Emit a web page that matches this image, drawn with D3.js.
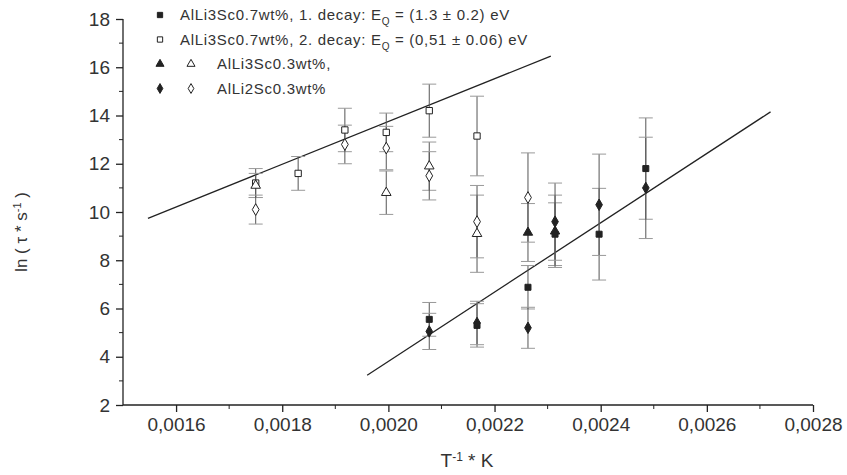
<!DOCTYPE html>
<html>
<head>
<meta charset="utf-8">
<script src="https://cdn.jsdelivr.net/npm/d3@7"></script>
<style>
  body { margin: 0; background: #fff; }
  svg { display: block; font-family: 'Liberation Sans', Arial, sans-serif; }
</style>
</head>
<body>
<svg width="847" height="475"></svg>
<script>
// 1. decay, AlLi3Sc0.7wt% (filled squares)
var decay1X = [0.002077, 0.002167, 0.002263, 0.002314, 0.002397, 0.002485]
var decay1Y = [5.55, 5.3, 6.88, 9.08, 9.08, 11.8]
var decay1Err = [0.7, 0.9, 0.9, 1.3, 1.9, 2.1]

// 2. decay, AlLi3Sc0.7wt% (open squares)
var decay2X = [0.00175, 0.00183, 0.001918, 0.001996, 0.002077, 0.002167]
var decay2Y = [11.2, 11.6, 13.4, 13.3, 14.2, 13.15]
var decay2Err = [0.6, 0.7, 0.9, 0.8, 1.1, 1.65]

// AlLi3Sc0.3wt% (filled / open triangles)
var triFilledX = [0.002263, 0.002314]
var triFilledY = [9.15, 9.2]
var triFilledErr = [1.2, 1.5]
var triOpenX = [0.00175, 0.001996, 0.002077, 0.002167]
var triOpenY = [11.1, 10.8, 11.9, 9.1]
var triOpenErr = [0.5, 0.9, 1.0, 1.6]

// AlLi2Sc0.3wt% (filled / open diamonds)
var diaFilledX = [0.002077, 0.002167, 0.002263, 0.002314, 0.002397, 0.002485]
var diaFilledY = [5.05, 5.4, 5.2, 9.6, 10.3, 11.0]
var diaFilledErr = [0.75, 0.9, 0.85, 1.6, 2.1, 2.1]
var diaOpenX = [0.00175, 0.001918, 0.001996, 0.002077, 0.002167, 0.002263]
var diaOpenY = [10.1, 12.8, 12.65, 11.5, 9.6, 10.6]
var diaOpenErr = [0.6, 0.8, 0.9, 1.0, 1.5, 1.85]

// fitted lines (end points)
var fit1X = [0.00196, 0.00272]
var fit1Y = [3.23, 14.15]
var fit2X = [0.001547, 0.002306]
var fit2Y = [9.74, 16.46]

var xTicks = [0.0016, 0.0018, 0.0020, 0.0022, 0.0024, 0.0026, 0.0028]
var yTicks = [2, 4, 6, 8, 10, 12, 14, 16, 18]

;(function (d3) {
  var svg = d3.select('svg')

  var x = d3.scaleLinear().domain([0.0015, 0.0028]).range([123, 813])
  var y = d3.scaleLinear().domain([2, 18]).range([405, 19])

  var fmt = function (d) { return d3.format('.4f')(d).replace('.', ',') }

  // x axis
  var xAxis = svg.append('g')
        .attr('transform', 'translate(0,' + y(2) + ')')
        .call(d3.axisBottom(x).tickValues(xTicks).tickFormat(fmt).tickSize(7).tickPadding(6))
  xAxis.selectAll('g.minor')
        .data(d3.range(0.0017, 0.0028, 0.0002))
        .enter()
        .append('line')
        .attr('x1', function (d) { return x(d) })
        .attr('x2', function (d) { return x(d) })
        .attr('y1', 0)
        .attr('y2', 4)
        .style('stroke', '#222')
  xAxis.select('.domain').attr('d', 'M' + x(0.0015) + ',0H' + x(0.0028))

  // y axis
  var yAxis = svg.append('g')
        .attr('transform', 'translate(' + x(0.0015) + ',0)')
        .call(d3.axisLeft(y).tickValues(yTicks).tickSize(7).tickPadding(6))
  yAxis.selectAll('g.minor')
        .data(d3.range(3, 18, 2))
        .enter()
        .append('line')
        .attr('y1', function (d) { return y(d) })
        .attr('y2', function (d) { return y(d) })
        .attr('x1', 0)
        .attr('x2', -4)
        .style('stroke', '#222')
  yAxis.select('.domain').attr('d', 'M0,' + y(18) + 'V' + y(2))

  svg.selectAll('.tick text')
        .style('font-size', '19px')
        .style('font-family', "'Liberation Sans', Arial, sans-serif")
        .style('fill', '#333')
  svg.selectAll('.domain, .tick line').style('stroke', '#222').style('stroke-width', 1.3)

  // axis titles
  var xt = svg.append('text')
        .attr('x', 467)
        .attr('y', 467)
        .attr('text-anchor', 'middle')
        .style('font-size', '19px')
        .style('fill', '#333')
  xt.append('tspan').text('T')
  xt.append('tspan').attr('dy', -6).style('font-size', '12px').text('-1')
  xt.append('tspan').attr('dy', 6).text(' * K')

  var yt = svg.append('text')
        .attr('transform', 'translate(27,232) rotate(-90)')
        .attr('text-anchor', 'middle')
        .style('font-size', '17px')
        .style('fill', '#333')
  yt.append('tspan').text('ln ( \u03c4 * s')
  yt.append('tspan').attr('dy', -6).style('font-size', '11px').text('-1')
  yt.append('tspan').attr('dy', 6).text(' )')

  // fit lines
  var ln = d3.line()
        .x(function (d) { return x(d[0]) })
        .y(function (d) { return y(d[1]) })
  svg.append('path')
        .attr('d', ln(d3.zip(fit1X, fit1Y)))
        .style('fill', 'none').style('stroke', '#222').style('stroke-width', 1.3)
  svg.append('path')
        .attr('d', ln(d3.zip(fit2X, fit2Y)))
        .style('fill', 'none').style('stroke', '#222').style('stroke-width', 1.3)

  var series = [
    {xs: decay1X, ys: decay1Y, es: decay1Err, sym: d3.symbolSquare, size: 36, fill: '#222'},
    {xs: decay2X, ys: decay2Y, es: decay2Err, sym: d3.symbolSquare, size: 40, fill: '#fff'},
    {xs: triFilledX, ys: triFilledY, es: triFilledErr, sym: d3.symbolTriangle, size: 38, fill: '#222'},
    {xs: triOpenX, ys: triOpenY, es: triOpenErr, sym: d3.symbolTriangle, size: 40, fill: '#fff'},
    {xs: diaFilledX, ys: diaFilledY, es: diaFilledErr, sym: d3.symbolDiamond, size: 38, fill: '#222'},
    {xs: diaOpenX, ys: diaOpenY, es: diaOpenErr, sym: d3.symbolDiamond, size: 40, fill: '#fff'}
  ]

  // error bars
  series.forEach(function (s) {
    var pts = d3.range(s.xs.length).map(function (i) {
      return {x: s.xs[i], y: s.ys[i], e: s.es[i]}
    })
    var g = svg.append('g')
    g.selectAll('line.bar')
          .data(pts)
          .enter()
          .append('line')
          .attr('x1', function (d) { return x(d.x) })
          .attr('x2', function (d) { return x(d.x) })
          .attr('y1', function (d) { return y(d.y - d.e) })
          .attr('y2', function (d) { return y(d.y + d.e) })
          .style('stroke', '#555').style('stroke-width', 1)
    ;[-1, 1].forEach(function (sg) {
      g.selectAll('line.cap' + sg)
            .data(pts)
            .enter()
            .append('line')
            .attr('x1', function (d) { return x(d.x) - 7 })
            .attr('x2', function (d) { return x(d.x) + 7 })
            .attr('y1', function (d) { return y(d.y + sg * d.e) })
            .attr('y2', function (d) { return y(d.y + sg * d.e) })
            .style('stroke', '#999').style('stroke-width', 1)
    })
  })

  // markers
  series.forEach(function (s) {
    svg.append('g').selectAll('path')
          .data(d3.range(s.xs.length))
          .enter()
          .append('path')
          .attr('transform', function (i) {
            return 'translate(' + x(s.xs[i]) + ',' + y(s.ys[i]) + ')'
          })
          .attr('d', d3.symbol().type(s.sym).size(s.size))
          .style('fill', s.fill)
          .style('stroke', '#222')
          .style('stroke-width', 1)
  })

  // legend
  var rows = [
    {sym: [[d3.symbolSquare, '#222']], tx: 180, label: 'AlLi3Sc0.7wt%, 1. decay:  E', sub: 'Q', rest: ' = (1.3 \u00b1 0.2) eV'},
    {sym: [[d3.symbolSquare, '#fff']], tx: 180, label: 'AlLi3Sc0.7wt%, 2. decay: E', sub: 'Q', rest: ' = (0,51 \u00b1 0.06) eV'},
    {sym: [[d3.symbolTriangle, '#222'], [d3.symbolTriangle, '#fff']], tx: 217, label: 'AlLi3Sc0.3wt%,'},
    {sym: [[d3.symbolDiamond, '#222'], [d3.symbolDiamond, '#fff']], tx: 217, label: 'AlLi2Sc0.3wt%'}
  ]
  rows.forEach(function (r, i) {
    var ry = 15 + i * 24.5
    r.sym.forEach(function (sm, j) {
      svg.append('path')
            .attr('transform', 'translate(' + (160 + j * 31) + ',' + ry + ')')
            .attr('d', d3.symbol().type(sm[0]).size(28))
            .style('fill', sm[1]).style('stroke', '#222')
    })
    var t = svg.append('text')
          .attr('x', r.tx)
          .attr('y', ry + 5)
          .style('font-size', '15px')
          .style('letter-spacing', '0.7px')
          .style('fill', '#333')
    t.append('tspan').text(r.label)
    if (r.sub) {
      t.append('tspan').attr('dy', 5).style('font-size', '10px').text(r.sub)
      t.append('tspan').attr('dy', -5).text(r.rest)
    }
  })
})(window.d3)
</script>
</body>
</html>
